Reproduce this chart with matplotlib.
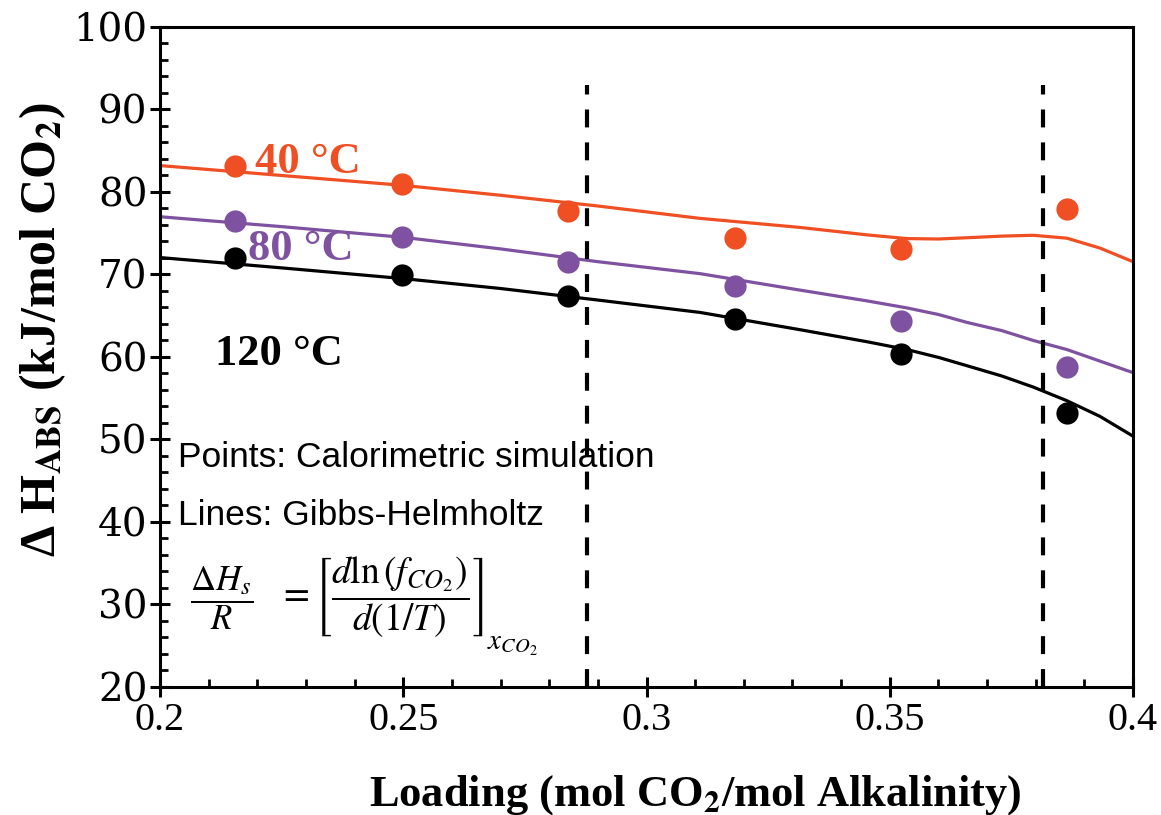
import matplotlib
matplotlib.use("Agg")
import matplotlib.pyplot as plt
from matplotlib.ticker import MultipleLocator, FixedLocator

# ---------------- data ----------------
loading_pts = [0.2155, 0.2497, 0.2839, 0.3181, 0.3523, 0.3865]
h40_pts = [83.2, 81.0, 77.7, 74.4, 73.05, 77.9]
h80_pts = [76.5, 74.6, 71.5, 68.6, 64.4, 58.75]
h120_pts = [72.0, 69.9, 67.4, 64.55, 60.3, 53.2]

loading_line = [0.200, 0.225, 0.250, 0.270, 0.290, 0.311, 0.3316, 0.3453,
                0.3535, 0.360, 0.3658, 0.373, 0.3795, 0.3864, 0.3932, 0.400]
h40_line = [83.2, 82.0, 80.8, 79.6, 78.3, 76.8, 75.7, 74.8,
            74.35, 74.3, 74.45, 74.65, 74.75, 74.4, 73.2, 71.55]
h80_line = [77.0, 75.8, 74.5, 73.1, 71.55, 70.1, 68.1, 66.8,
            65.95, 65.15, 64.2, 63.2, 62.0, 60.9, 59.5, 58.1]
h120_line = [72.05, 70.8, 69.5, 68.3, 66.9, 65.4, 63.3, 61.85,
             60.9, 59.95, 58.95, 57.7, 56.35, 54.7, 52.8, 50.4]

dash_x = [0.2878, 0.3814]
dash_top = 93

x_ticks = [0.2, 0.25, 0.3, 0.35, 0.4]
x_ticklabels = ["0.2", "0.25", "0.3", "0.35", "0.4"]
y_ticks = [20, 30, 40, 50, 60, 70, 80, 90, 100]

RED = "#F04E23"
PURPLE = "#7E52A0"
BLACK = "#000000"

plt.rcParams["mathtext.fontset"] = "stix"
plt.rcParams["font.family"] = ["Liberation Serif", "DejaVu Serif"]

fig = plt.figure(figsize=(11.61, 8.15), dpi=100)
ax = fig.add_axes([0.1378, 0.1571, 0.8381, 0.8098])

# lines
ax.plot(loading_line, h40_line, color=RED, lw=2.3, zorder=2)
ax.plot(loading_line, h80_line, color=PURPLE, lw=2.3, zorder=2)
ax.plot(loading_line, h120_line, color=BLACK, lw=2.3, zorder=2)
# points
ax.plot(loading_pts, h40_pts, "o", color=RED, ms=16, mec="none", zorder=3)
ax.plot(loading_pts, h80_pts, "o", color=PURPLE, ms=16, mec="none", zorder=3)
ax.plot(loading_pts, h120_pts, "o", color=BLACK, ms=16, mec="none", zorder=3)

# dashed vertical lines
for xd in dash_x:
    ax.plot([xd, xd], [20, dash_top], color="black", lw=3.0,
            dashes=(4.3, 3.6), zorder=5, clip_on=False)

ax.set_xlim(0.2, 0.4)
ax.set_ylim(20, 100)
ax.xaxis.set_major_locator(FixedLocator(x_ticks))
ax.set_xticklabels(x_ticklabels)
ax.xaxis.set_minor_locator(MultipleLocator(0.01))
ax.yaxis.set_major_locator(FixedLocator(y_ticks))
ax.yaxis.set_minor_locator(MultipleLocator(2))

for sp in ax.spines.values():
    sp.set_linewidth(2.2)

ax.tick_params(which="major", direction="inout", length=14, width=2.2,
               top=False, right=False)
ax.tick_params(which="minor", direction="in", length=6, width=2.0,
               top=False, right=False)
ax.tick_params(axis="x", which="major", labelsize=29, pad=4)
ax.tick_params(axis="y", which="major", labelsize=28, pad=2)
for lab in ax.get_yticklabels():
    lab.set_family("DejaVu Serif")

# axis labels
fig.text(0.5985, 0.012, r"Loading (mol CO$_\mathbf{2}$/mol Alkalinity)",
         ha="center", va="baseline", fontsize=32, fontweight="bold")
fig.text(0.037, 0.595, r"Δ H$_\mathbf{ABS}$ (kJ/mol CO$_\mathbf{2}$)",
         fontsize=36, fontweight="bold", rotation=90, ha="center", va="center")

# temperature labels
ax.text(0.2195, 82.3, "40 °C", color=RED, fontsize=32, fontweight="bold",
        ha="left", va="baseline")
ax.text(0.2181, 71.76, "80 °C", color=PURPLE, fontsize=32, fontweight="bold",
        ha="left", va="baseline")
ax.text(0.2113, 59.03, "120 °C", color=BLACK, fontsize=32, fontweight="bold",
        ha="left", va="baseline")

# annotation
ax.text(0.2037, 46.67, "Points: Calorimetric simulation", fontsize=25.5,
        family="Liberation Sans", ha="left", va="baseline", zorder=3)
ax.text(0.2037, 39.6, "Lines: Gibbs-Helmholtz", fontsize=25.5,
        family="Liberation Sans", ha="left", va="baseline", zorder=3)
ax.text(0.2062, 30.8, r"$\dfrac{\Delta H_s}{R}$",
        fontsize=25, ha="left", va="center", zorder=3)
ax.text(0.2243, 30.8,
        r"$=\left[\dfrac{d\ln\left(f_{CO_2}\right)}{d(1/T)}\right]$",
        fontsize=27, ha="left", va="center", zorder=3)
ax.text(0.2672, 24.5, r"$x_{CO_2}$",
        fontsize=21, ha="left", va="baseline", zorder=3)

fig.savefig("out.png", dpi=100)
